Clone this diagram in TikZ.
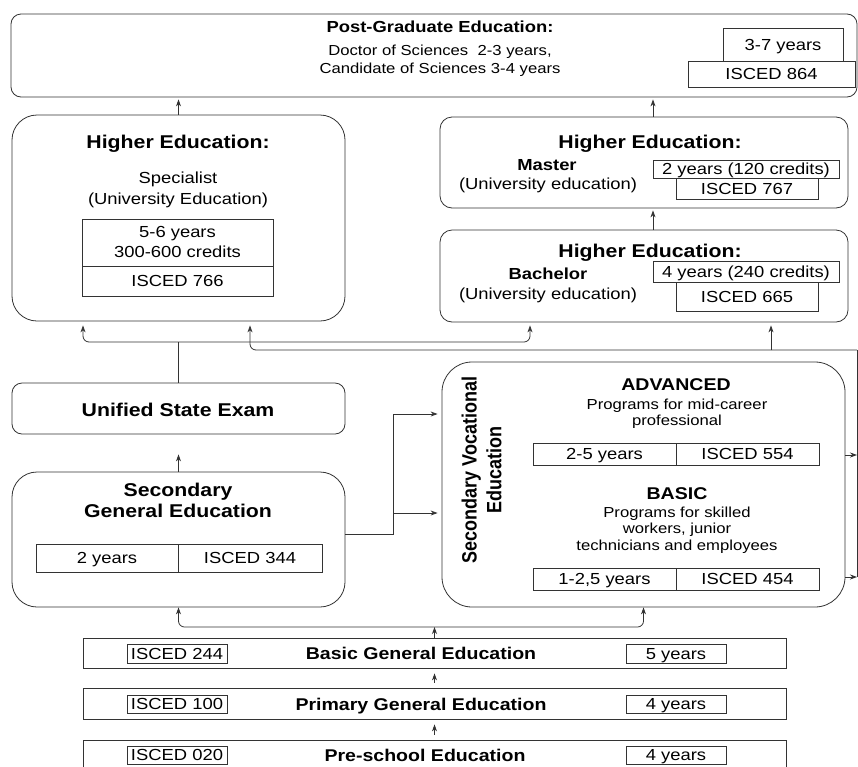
\documentclass[tikz,border=0pt]{standalone}
\usepackage{fontspec}
\setmainfont{Liberation Sans}[FakeStretch=1.15]
\newfontfamily\myRot{Liberation Sans}
\usetikzlibrary{arrows.meta,calc}
\newcommand\myBig{\fontsize{18.5}{21}\selectfont\bfseries}
\newcommand\myPgt{\fontsize{16}{19}\selectfont\bfseries}
\newcommand\myPgl{\fontsize{14.5}{18}\selectfont}
\newcommand\myReg{\fontsize{16}{20}\selectfont}
\newcommand\mySub{\fontsize{16}{19}\selectfont\bfseries}
\newcommand\myVoc{\fontsize{17}{20}\selectfont\bfseries}
\newcommand\mySmall{\fontsize{14.5}{16.5}\selectfont}
\newcommand\myBar{\fontsize{17}{20}\selectfont\bfseries}
\tikzset{
  ln/.style={draw=black!80, line width=0.8pt},
  rbox/.style={ln, rounded corners=#1, inner sep=0pt},
  rbox/.default=10pt,
  sbox/.style={ln, inner sep=0pt, font=\myReg, text height=11.5pt, text depth=0pt},
  arr/.style={ln, -{Stealth[length=7pt,width=5pt]}},
  cap/.style={inner sep=0pt, text depth=0pt, text height=#1},
  tBig/.style={cap=13.2pt, font=\myBig},
  tPgt/.style={cap=11.5pt, font=\myPgt},
  tPgl/.style={cap=10.4pt, font=\myPgl},
  tReg/.style={cap=11.5pt, font=\myReg},
  tSub/.style={cap=11.5pt, font=\mySub},
  tVoc/.style={cap=12.2pt, font=\myVoc},
  tSmall/.style={cap=10.4pt, font=\mySmall},
  tBar/.style={cap=12.2pt, font=\myBar},
}
\begin{document}
\begin{tikzpicture}[x=1pt,y=-1pt]
\useasboundingbox[fill=white] (0,0) rectangle (858,766);
% ---------- Post-graduate
\node[rbox=10pt, minimum width=846pt, minimum height=83pt] (pg) at (434,55.5) {};
\node[tPgt] (pgt) at (440,27) {Post-Graduate Education:};
\node[tPgl] (pgd1) at (440,50) {Doctor of Sciences\ \ 2-3 years,};
\node[tPgl] (pgd2) at (440,68) {Candidate of Sciences 3-4 years};
\node[sbox, minimum width=120pt, minimum height=33pt] (pgy) at (783,44.5) {3-7 years};
\node[sbox, fill=white, minimum width=167pt, minimum height=26pt] (pgi) at (771.5,74) {ISCED 864};
% ---------- Specialist
\node[rbox=25pt, minimum width=333pt, minimum height=206pt] (spec) at (178.5,218) {};
\node[tBig] (spect) at (178,142) {Higher Education:};
\node[tReg] (specs1) at (178,178) {Specialist};
\node[tReg] (specs2) at (178,199) {(University Education)};
\node[sbox, minimum width=191pt, minimum height=47pt] (specy) at (177.5,242.5) {};
\node[tReg] (specy1) at (177.5,232) {5-6 years};
\node[tReg] (specy2) at (177.5,252) {300-600 credits};
\node[sbox, minimum width=191pt, minimum height=30pt] (speci) at (177.5,281) {ISCED 766};
% ---------- Master
\node[rbox=12pt, minimum width=408pt, minimum height=91pt] (mast) at (644,162.5) {};
\node[tBig] (mastt) at (650,142) {Higher Education:};
\node[tSub] (mastn) at (547,165) {Master};
\node[tReg] (mastu) at (548,184) {(University education)};
\node[sbox, minimum width=186pt, minimum height=18pt] (masty) at (746,169) {2 years (120 credits)};
\node[sbox, minimum width=142pt, minimum height=21pt] (masti) at (747,188.5) {ISCED 767};
% ---------- Bachelor
\node[rbox=12pt, minimum width=408pt, minimum height=92pt] (bach) at (644,276) {};
\node[tBig] (bacht) at (650,251) {Higher Education:};
\node[tSub] (bachn) at (548,274) {Bachelor};
\node[tReg] (bachu) at (548,294) {(University education)};
\node[sbox, minimum width=186pt, minimum height=21pt] (bachy) at (746,271.5) {4 years (240 credits)};
\node[sbox, minimum width=142pt, minimum height=29pt] (bachi) at (747,296.5) {ISCED 665};
% ---------- Unified State Exam
\node[rbox=10pt, minimum width=333pt, minimum height=51pt] (use) at (178.5,408.5) {};
\node[tBig] (uset) at (178,410) {Unified State Exam};
% ---------- Secondary general
\node[rbox=25pt, minimum width=333pt, minimum height=135pt] (sge) at (178.5,539.5) {};
\node[tBig] (sget1) at (178,490) {Secondary};
\node[tBig] (sget2) at (178,510.5) {General Education};
\node[sbox, minimum width=142pt, minimum height=28pt] (sgey) at (107,558) {2 years};
\node[sbox, minimum width=144pt, minimum height=28pt] (sgei) at (250,558) {ISCED 344};
% ---------- Secondary vocational
\node[rbox=30pt, minimum width=403pt, minimum height=245pt] (voc) at (643.5,484.5) {};
\node[inner sep=0pt, rotate=90] (voct) at (484,470) {\scalebox{1}[1.15]{\myRot\fontsize{18}{21.7}\selectfont\bfseries\begin{tabular}{@{}c@{}}Secondary Vocational\\Education\end{tabular}}};
\node[tVoc] (adv) at (676,384) {ADVANCED};
\node[tSmall] (advp1) at (677,404) {Programs for mid-career};
\node[tSmall] (advp2) at (677,420) {professional};
\node[sbox, minimum width=143pt, minimum height=22pt] (advy) at (604.5,454) {2-5 years};
\node[sbox, minimum width=143pt, minimum height=22pt] (advi) at (747.5,454) {ISCED 554};
\node[tVoc] (bas) at (677,493) {BASIC};
\node[tSmall] (basp1) at (677,512) {Programs for skilled};
\node[tSmall] (basp2) at (677,528) {workers, junior};
\node[tSmall] (basp3) at (677,545) {technicians and employees};
\node[sbox, minimum width=143pt, minimum height=22pt] (basy) at (604.5,579) {1-2,5 years};
\node[sbox, minimum width=143pt, minimum height=22pt] (basi) at (747.5,579) {ISCED 454};
% ---------- Bars
\node[sbox, minimum width=703pt, minimum height=30pt] (basic) at (434.5,653) {};
\node[sbox, minimum width=100pt, minimum height=19pt] (basici) at (177,653.5) {ISCED 244};
\node[tBar] (basict) at (421,653.5) {Basic General Education};
\node[sbox, minimum width=100pt, minimum height=19pt] (basicy) at (676,653.5) {5 years};
\node[sbox, minimum width=703pt, minimum height=31pt] (prim) at (434.5,703.5) {};
\node[sbox, minimum width=100pt, minimum height=18pt] (primi) at (177,704) {ISCED 100};
\node[tBar] (primt) at (421,704) {Primary General Education};
\node[sbox, minimum width=100pt, minimum height=18pt] (primy) at (676,704) {4 years};
\node[sbox, minimum width=703pt, minimum height=28pt] (pre) at (434.5,754) {};
\node[sbox, minimum width=100pt, minimum height=18pt] (prei) at (177,755) {ISCED 020};
\node[tBar] (pret) at (425,755) {Pre-school Education};
\node[sbox, minimum width=100pt, minimum height=18pt] (prey) at (676,755) {4 years};
% ---------- helper coordinates
\coordinate (hA) at (0,342);
\coordinate (hB) at (0,350);
\coordinate (hC) at (0,627);
\coordinate (vR) at (857,0);
\coordinate (vL) at (393,0);
\coordinate (r1) at (0,455);
\coordinate (r2) at (0,577);
\coordinate (s1) at (0,534);
\coordinate (s2) at (0,513);
\coordinate (s3) at (0,414);
% ---------- connectors
\draw[arr, shorten >=2pt] (spec.north) -- (spec.north |- pg.south);
\draw[arr, shorten >=2pt] ([xshift=9pt]mast.north) -- ([xshift=9pt]mast.north |- pg.south);
\draw[arr, shorten >=2pt] ([xshift=9pt]bach.north) -- ([xshift=9pt]bach.north |- mast.south);
\draw[ln] (use.north) -- (use.north |- hA);
\draw[arr, rounded corners=6pt, shorten >=4pt] (use.north |- hA) -| ([xshift=-95.5pt]spec.south);
\draw[arr, rounded corners=6pt, shorten >=3pt] (use.north |- hA) -| ([xshift=-114pt]bach.south);
\draw[arr] (voc.east |- r1) -- (vR |- r1);
\draw[arr] (voc.east |- r2) -- (vR |- r2);
\draw[ln] (vR |- r2) -- (vR |- hB);
\draw[arr, rounded corners=6pt, shorten >=4pt] (vR |- hB) -| ([xshift=71.5pt]spec.south);
\draw[arr, shorten >=3pt] ([xshift=127pt]bach.south |- hB) -- ([xshift=127pt]bach.south);
\draw[arr, shorten >=20pt] (sge.north) -- (use.south);
\draw[arr, shorten >=4pt] (sge.east |- s1) -| (vL |- s3) -- (voc.west |- s3);
\draw[arr, shorten >=4pt] (vL |- s2) -- (voc.west |- s2);
\draw[arr] (basic.north) -- (basic.north |- hC);
\draw[arr, rounded corners=6pt] (basic.north |- hC) -| (sge.south);
\draw[arr, rounded corners=6pt] (basic.north |- hC) -| (voc.south);
\draw[arr, shorten <=5pt, shorten >=5pt] (prim.north) -- (basic.south);
\draw[arr, shorten <=5pt, shorten >=5pt] (pre.north) -- (prim.south);
\end{tikzpicture}
\end{document}
